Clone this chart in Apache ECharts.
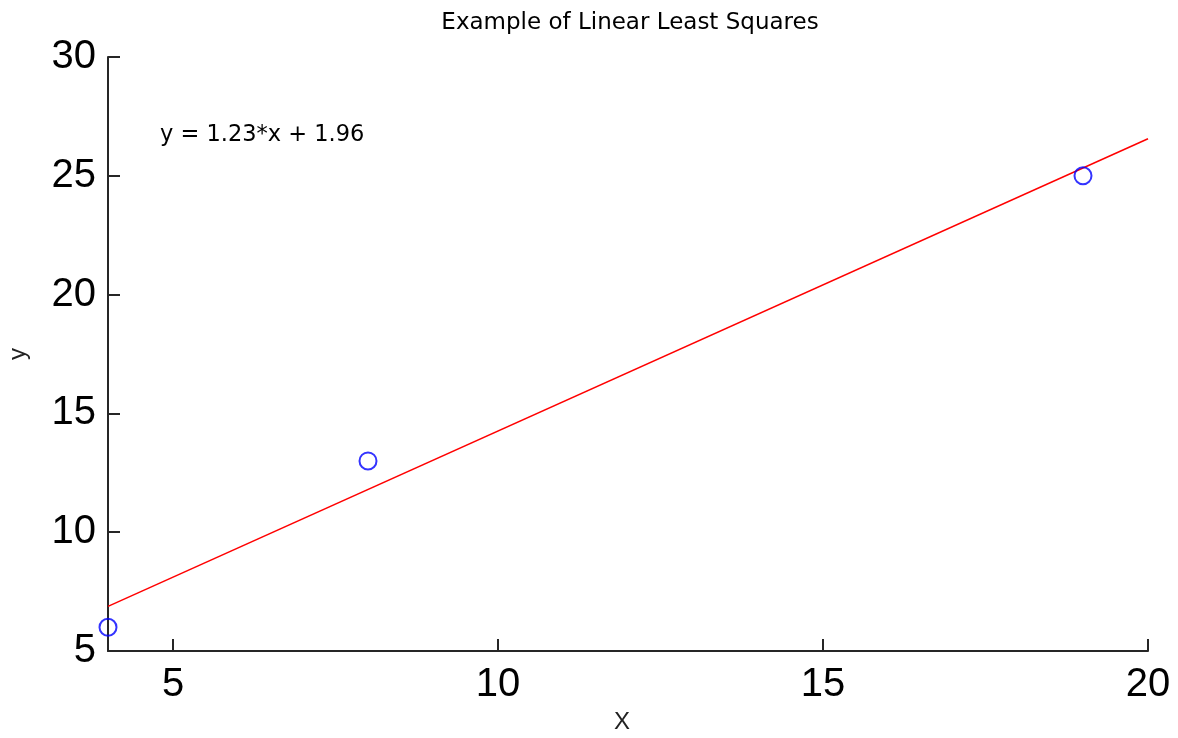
<!DOCTYPE html>
<html>
<head>
<meta charset="utf-8">
<script src="https://cdn.jsdelivr.net/npm/echarts@6/dist/echarts.min.js"></script>
<style>
  html, body { margin: 0; padding: 0; background: #fff; }
  #chart { width: 1178px; height: 738px; }
</style>
</head>
<body>
<div id="chart"></div>
<script>
// Observed samples
const xData = [4, 8, 19];
const yData = [6, 13, 25];

// Least-squares fit coefficients (as printed on the chart)
const slope = 1.23;
const intercept = 1.96;
const fitRange = [4, 20];

// Axis tick values
const xTicks = [5, 10, 15, 20];
const yTicks = [5, 10, 15, 20, 25, 30];

const points = xData.map((x, i) => [x, yData[i]]);
const fitLine = fitRange.map(x => [x, slope * x + intercept]);

const font = '"Liberation Sans", Arial, Helvetica, sans-serif';
const smallFont = '"DejaVu Sans", Verdana, sans-serif';
const axisColor = '#262626';

const chart = echarts.init(document.getElementById('chart'), null, { renderer: 'canvas' });
chart.setOption({
  animation: false,
  backgroundColor: '#ffffff',
  title: {
    text: 'Example of Linear Least Squares',
    left: 625, top: 7, textAlign: 'center',
    textStyle: { fontFamily: smallFont, fontSize: 23, fontWeight: 'normal', color: '#000' }
  },
  grid: { left: 108, right: 30, top: 57, bottom: 87, containLabel: false, outerBoundsMode: 'none' },
  xAxis: {
    type: 'value', min: 4, max: 20,
    name: 'X', nameLocation: 'middle', nameGap: 57,
    nameTextStyle: { fontFamily: font, fontSize: 24, color: '#222', padding: [0, 12, 0, 0] },
    axisLine: { show: true, lineStyle: { color: axisColor, width: 2 } },
    axisTick: { show: true, inside: true, length: 12, customValues: xTicks, lineStyle: { color: axisColor, width: 2 } },
    axisLabel: { customValues: xTicks, fontFamily: font, fontSize: 40, color: '#000', margin: 14 },
    splitLine: { show: false }
  },
  yAxis: {
    type: 'value', min: 5, max: 30, interval: 5,
    name: 'y', nameLocation: 'middle', nameGap: 78, nameRotate: 90,
    nameTextStyle: { fontFamily: font, fontSize: 24, color: '#222' },
    axisLine: { show: true, lineStyle: { color: axisColor, width: 2 } },
    axisTick: { show: true, inside: true, length: 12, customValues: yTicks, lineStyle: { color: axisColor, width: 2 } },
    axisLabel: { customValues: yTicks, fontFamily: font, fontSize: 40, color: '#000', margin: 12 },
    splitLine: { show: false }
  },
  series: [
    {
      type: 'line',
      data: fitLine,
      symbol: 'none',
      lineStyle: { color: '#ff0000', width: 1.5 },
      z: 2
    },
    {
      type: 'scatter',
      data: points,
      symbol: 'circle',
      symbolSize: 17,
      itemStyle: { color: 'transparent', borderColor: '#0000ff', borderWidth: 2 },
      z: 3
    }
  ],
  graphic: [
    {
      type: 'text',
      x: 160, y: 135,
      style: {
        text: 'y = ' + slope.toFixed(2) + '*x + ' + intercept.toFixed(2),
        font: '22.5px ' + smallFont,
        fill: '#000',
        verticalAlign: 'middle'
      }
    }
  ]
});
</script>
</body>
</html>
